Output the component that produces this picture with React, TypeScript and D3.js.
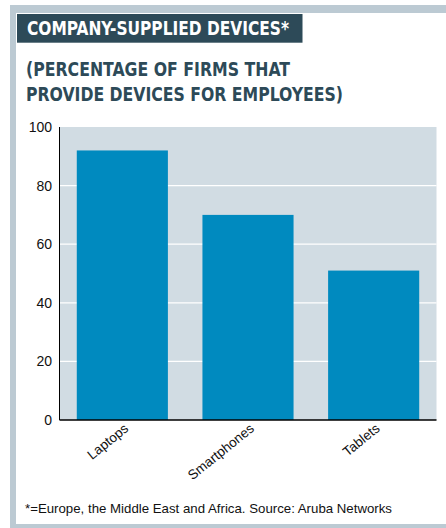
import React from "react";
import * as d3 from "d3";

const categories = ["Laptops", "Smartphones", "Tablets"];
const values = [92, 70, 51];
const yTicks = [0, 20, 40, 60, 80, 100];
const titleText = "COMPANY-SUPPLIED DEVICES*";
const subtitleLines = ["(PERCENTAGE OF FIRMS THAT", "PROVIDE DEVICES FOR EMPLOYEES)"];
const footnote = "*=Europe, the Middle East and Africa. Source: Aruba Networks";

const W = 446;
const H = 528;
const plot = { left: 59.5, right: 436.5, top: 127, bottom: 420 };

export default function App() {
  const x = d3
    .scaleBand<string>()
    .domain(categories)
    .range([plot.left, plot.right])
    .paddingInner(0.275)
    .paddingOuter(0.1375);
  const y = d3.scaleLinear().domain([0, 100]).range([plot.bottom, plot.top]);
  const dark = "#2d4a58";
  const frame = "#bccad3";
  const axisFont = "'Liberation Sans', Arial, sans-serif";
  const condFont = "'DejaVu Sans Condensed', 'DejaVu Sans', sans-serif";

  return (
    <svg
      width={W}
      height={H}
      style={{ position: "absolute", left: 0, top: 0, background: "#fff" }}
    >
      {/* frame */}
      <rect x={10} y={5} width={W - 10} height={8} fill={frame} />
      <rect x={10} y={5} width={6} height={H - 5} fill={frame} />
      <rect x={10} y={524} width={W - 10} height={4} fill={frame} />

      {/* title */}
      <rect x={17} y={14} width={285.5} height={28.7} fill={dark} />
      <text
        x={27}
        y={35}
        fill="#fff"
        fontFamily={condFont}
        fontWeight="bold"
        fontSize={19.5}
        textLength={262}
        lengthAdjust="spacingAndGlyphs"
      >
        {titleText}
      </text>
      {subtitleLines.map((l, i) => (
        <text
          key={l}
          x={26}
          y={76 + i * 25}
          fill={dark}
          fontFamily={condFont}
          fontWeight="bold"
          fontSize={20}
          textLength={i === 0 ? 264 : 317}
          lengthAdjust="spacingAndGlyphs"
        >
          {l}
        </text>
      ))}

      {/* plot background */}
      <rect
        x={plot.left}
        y={plot.top}
        width={plot.right - plot.left}
        height={plot.bottom - plot.top}
        fill="#d1dce3"
      />
      {yTicks
        .filter((t) => t > 0 && t < 100)
        .map((t) => (
          <line
            key={t}
            x1={plot.left}
            x2={plot.right}
            y1={y(t)}
            y2={y(t)}
            stroke="#fff"
            strokeWidth={1.3}
          />
        ))}

      {/* bars */}
      {categories.map((c, i) => (
        <rect
          key={c}
          x={x(c)}
          y={y(values[i])}
          width={x.bandwidth()}
          height={y(0) - y(values[i])}
          fill="#008abf"
        />
      ))}

      {/* axes */}
      <line x1={plot.left} x2={plot.left} y1={plot.top} y2={plot.bottom} stroke="#000" strokeWidth={1} />
      <line x1={plot.left} x2={plot.right} y1={plot.bottom} y2={plot.bottom} stroke="#000" strokeWidth={1.5} />

      {yTicks.map((t) => (
        <text
          key={t}
          x={52}
          y={y(t)}
          dy="0.36em"
          textAnchor="end"
          fontFamily={axisFont}
          fontSize={14}
          fill="#111"
        >
          {t}
        </text>
      ))}

      {categories.map((c) => {
        const cx = (x(c) ?? 0) + x.bandwidth() / 2 + 7;
        const cy = 430;
        return (
          <text
            key={c}
            x={cx}
            y={cy}
            transform={`rotate(-39 ${cx} ${cy})`}
            textAnchor="end"
            fontFamily={axisFont}
            fontSize={13.5}
            fill="#111"
          >
            {c}
          </text>
        );
      })}

      {/* footnote */}
      <text
        x={25}
        y={513}
        fontFamily={axisFont}
        fontSize={13}
        fill="#111"
        textLength={367}
        lengthAdjust="spacingAndGlyphs"
      >
        {footnote}
      </text>
    </svg>
  );
}
